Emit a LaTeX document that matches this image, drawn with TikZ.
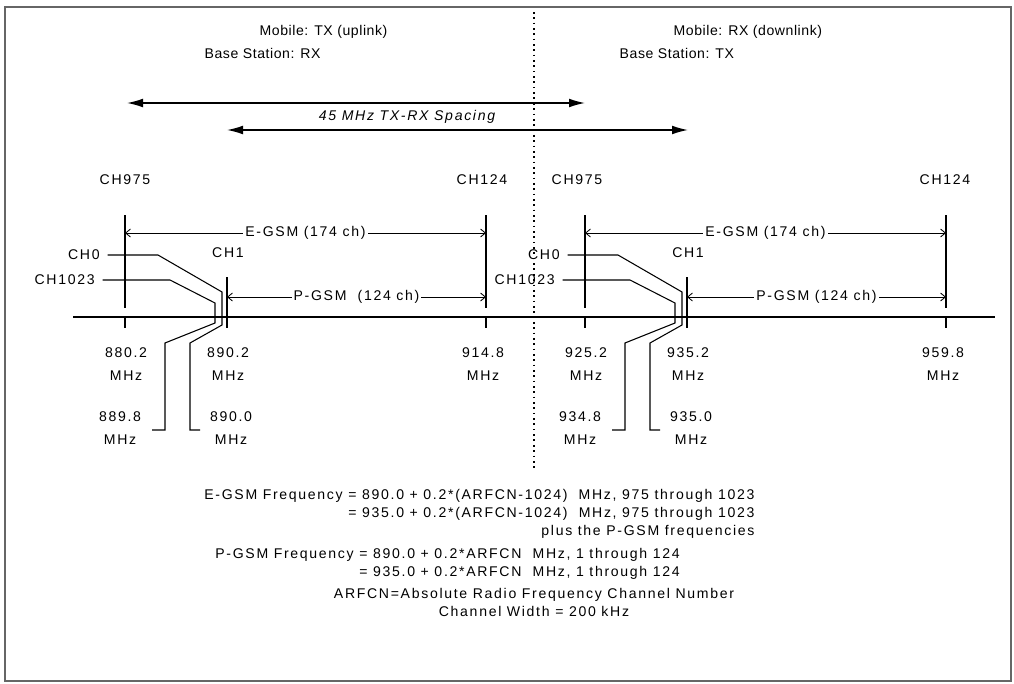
\documentclass[tikz,border=0pt]{standalone}
\usepackage{fontspec}
\setmainfont[LetterSpace=12]{Liberation Sans}
\newfontfamily\headfont[LetterSpace=4]{Liberation Sans}
\usetikzlibrary{arrows.meta}

\begin{document}
\begin{tikzpicture}[x=.025cm,y=-.025cm,
    lbl/.style={font=\fontsize{10}{12}\selectfont, inner sep=1.5pt},
    head/.style={font=\headfont\fontsize{10}{12}\selectfont, inner sep=1pt,
      anchor=west},
    freq/.style={lbl, align=center, font=\fontsize{10}{16.5}\selectfont},
    formula/.style={lbl, font=\fontsize{10}{12.8}\selectfont},
    band/.style={line width=.75pt},
    leader/.style={line width=.75pt, line join=miter},
    dim/.style={line width=.6pt,
      {Straight Barb[length=1.2mm,width=2mm]}-{Straight Barb[length=1.2mm,width=2mm]}},
    spacing/.style={line width=1pt,
      {Latex[length=4mm,width=2.2mm]}-{Latex[length=4mm,width=2.2mm]}}]
  \useasboundingbox (0,0) rectangle (1014,684);
  \draw[black!60, line width=.8pt] (5,7) rectangle (1011,681);
  \draw[line width=1pt, dash pattern=on 1.2pt off 2.6pt] (534,12) -- (534,470);

  % uplink / downlink headings
  \node[head] (mobtx) at (258,32) {Mobile: TX (uplink)};
  \node[head] (bastx) at (203,53) {Base Station: RX};
  \node[head] (mobrx) at (672,32) {Mobile: RX (downlink)};
  \node[head] (basrx) at (618,53) {Base Station: TX};

  % 45 MHz duplex spacing
  \coordinate (sp1l) at (127,103); \coordinate (sp1r) at (585,103);
  \coordinate (sp2l) at (227,130); \coordinate (sp2r) at (688,130);
  \draw[spacing] (sp1l) -- (sp1r);
  \draw[spacing] (sp2l) -- (sp2r);
  \node[lbl, font=\fontsize{10}{12}\selectfont\itshape] (duplex) at (407,117)
    {45 MHz TX-RX Spacing};

  \node[lbl] (ch975a) at (125,180) {CH975};
  \node[lbl] (ch124a) at (482,180) {CH124};
  \node[lbl] (ch975b) at (577,180) {CH975};
  \node[lbl] (ch124b) at (945,180) {CH124};

  % frequency axis
  \coordinate (axl) at (73,317); \coordinate (axr) at (995,317);
  \draw[band] (axl) -- (axr);

  \foreach \dx/\fa/\fb/\fc/\fd/\fe/\pg [count=\b] in {
      0/880.2/890.2/914.8/889.8/890.0/{P-GSM\ \ (124 ch)},
      460/925.2/935.2/959.8/934.8/935.0/{P-GSM (124 ch)}}{
    \begin{scope}[shift={(\dx,0)}]
      \draw[band] (125,215) -- (125,308) (125,317) -- (125,328);
      \draw[band] (486,215) -- (486,308) (486,317) -- (486,328);
      \draw[band] (227,277) -- (227,328);
      \coordinate (egl\b) at (125,233); \coordinate (egr\b) at (486,233);
      \coordinate (pgl\b) at (227,297); \coordinate (pgr\b) at (486,297);
      \draw[dim] (egl\b) -- (egr\b)
        node[lbl, fill=white, midway] (egsm\b) {E-GSM (174 ch)};
      \draw[dim] (pgl\b) -- (pgr\b)
        node[lbl, fill=white, midway] (pgsm\b) {\pg};

      \node[lbl, anchor=east] (chz\b) at (102,255) {CH0};
      \node[lbl, anchor=east] (chl\b) at (97,280) {CH1023};
      \node[lbl] (cho\b) at (228,253) {CH1};

      \node[freq] (fa\b) at (126,364) {\fa\\MHz};
      \node[freq] (fb\b) at (228,364) {\fb\\MHz};
      \node[freq] (fc\b) at (483,364) {\fc\\MHz};
      \node[freq] (fd\b) at (120,428) {\fd\\MHz};
      \node[freq] (fe\b) at (231,428) {\fe\\MHz};

      \draw[leader] ([xshift=4pt]chz\b.east) -- (158,255) -- (222,292)
        -- (222,325) -- (190,343) -- (190,430) -- (200,430);
      \draw[leader] ([xshift=4pt]chl\b.east) -- (170,280) -- (215,303)
        -- (215,323) -- (165,343) -- (165,430) -- (152,430);
    \end{scope}}

  % channel formulas
  \node[formula, align=right, anchor=west] (eform) at (202,514)
    {E-GSM Frequency = 890.0 + 0.2*(ARFCN-1024)\ \ MHz, 975 through 1023\\
     = 935.0 + 0.2*(ARFCN-1024)\ \ MHz, 975 through 1023\\
     plus the P-GSM frequencies};
  \node[formula, align=right, anchor=west] (pform) at (213,564)
    {P-GSM Frequency = 890.0 + 0.2*ARFCN\ \ MHz, 1 through 124\\
     = 935.0 + 0.2*ARFCN\ \ MHz, 1 through 124};
  \node[formula, align=center] (arfcn) at (534,602)
    {ARFCN=Absolute Radio Frequency Channel Number\\
     Channel Width = 200 kHz};
\end{tikzpicture}
\end{document}
